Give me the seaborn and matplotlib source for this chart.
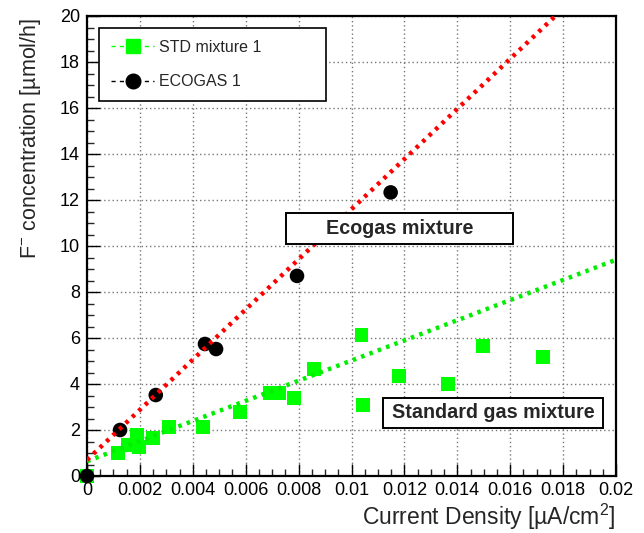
import numpy as np
import pandas as pd
import matplotlib
matplotlib.use("Agg")
import matplotlib.pyplot as plt
from matplotlib.lines import Line2D
from matplotlib.patches import Rectangle
from matplotlib.ticker import MultipleLocator, FuncFormatter
import seaborn as sns

# Standard gas mixture measurements
std_x = [0.0, 0.00116, 0.00154, 0.0019, 0.00198, 0.00248, 0.00311, 0.00437,
         0.00578, 0.00692, 0.00727, 0.00784, 0.00859, 0.01038, 0.01045,
         0.01181, 0.01366, 0.01496, 0.01725]
std_y = [0.0, 1.01, 1.35, 1.78, 1.28, 1.64, 2.12, 2.12,
         2.77, 3.6, 3.6, 3.38, 4.65, 6.13, 3.09,
         4.36, 4.0, 5.67, 5.19]

# ECOGAS measurements
eco_x = [0.0, 0.00125, 0.0026, 0.00446, 0.00488, 0.00794, 0.01148]
eco_y = [0.0, 2.0, 3.52, 5.74, 5.52, 8.7, 12.33]

# Linear fits: (intercept, slope)
eco_fit = (0.70, 1090.0)
std_fit = (0.64, 438.0)

x_ticks = [0, 0.002, 0.004, 0.006, 0.008, 0.01, 0.012, 0.014, 0.016, 0.018, 0.02]
y_ticks = [0, 2, 4, 6, 8, 10, 12, 14, 16, 18, 20]

sns.set_style("white")
plt.rcParams["font.family"] = ["Liberation Sans", "DejaVu Sans"]
plt.rcParams["mathtext.fontset"] = "custom"
plt.rcParams["mathtext.rm"] = "Liberation Sans"
plt.rcParams["mathtext.it"] = "Liberation Sans:italic"
plt.rcParams["mathtext.bf"] = "Liberation Sans:bold"

fig = plt.figure(figsize=(6.44, 5.33), dpi=100)
ax = fig.add_axes([87 / 644, 1 - 476 / 533, 529 / 644, 460 / 533])

xmin, xmax = x_ticks[0], x_ticks[-1]
ymin, ymax = y_ticks[0], y_ticks[-1]

# Scatter points
std_df = pd.DataFrame({"x": std_x, "y": std_y})
eco_df = pd.DataFrame({"x": eco_x, "y": eco_y})
sns.scatterplot(data=std_df, x="x", y="y", marker="s", s=100, color="#00ff00",
                edgecolor="none", linewidth=0, ax=ax, zorder=3, clip_on=False)
sns.scatterplot(data=eco_df, x="x", y="y", marker="o", s=110, color="black",
                edgecolor="none", linewidth=0, ax=ax, zorder=4, clip_on=False)

# Fit lines, clipped to the frame
def fit_line(fit):
    b, m = fit
    x_end = min(xmax, (ymax - b) / m)
    return pd.DataFrame({"x": [0.0, x_end], "y": [b, b + m * x_end]})

sns.lineplot(data=fit_line(std_fit), x="x", y="y", color="#00ee00", lw=3.2,
             linestyle=(0, (0.8, 1.2)), ax=ax, zorder=5)
sns.lineplot(data=fit_line(eco_fit), x="x", y="y", color="#ff0000", lw=3.2,
             linestyle=(0, (0.8, 1.2)), ax=ax, zorder=5)

ax.set_xlim(xmin, xmax)
ax.set_ylim(ymin, ymax)
ax.set_xticks(x_ticks)
ax.set_yticks(y_ticks)
ax.xaxis.set_minor_locator(MultipleLocator(0.0005))
ax.yaxis.set_minor_locator(MultipleLocator(0.5))
ax.xaxis.set_major_formatter(FuncFormatter(lambda v, p: f"{v:g}"))
ax.yaxis.set_major_formatter(FuncFormatter(lambda v, p: f"{v:g}"))

ax.tick_params(axis="both", which="major", direction="in", length=9, width=1.0,
               labelsize=13, colors="black", top=False, right=False,
               bottom=True, left=True)
ax.tick_params(axis="both", which="minor", direction="in", length=5, width=1.0,
               top=False, right=False, bottom=True, left=True)
ax.tick_params(axis="x", which="major", pad=4)
ax.tick_params(axis="y", which="major", pad=5)

ax.grid(True, which="major", color="#777777", linestyle=(0, (1, 2)), lw=1.0)
ax.set_axisbelow(True)
for s in ax.spines.values():
    s.set_color("black")
    s.set_linewidth(1.6)

ax.set_xlabel("")
ax.set_ylabel("")
fig.text(615 / 644, 1 - 517 / 533, "Current Density [µA/cm$^{2}$]",
         ha="right", va="center", fontsize=16.5)
fig.text(31 / 644, 1 - 18 / 533, "F$^{-}$ concentration [µmol/h]",
         ha="center", va="top", rotation=90, fontsize=15.5)

# Annotation boxes
def label_box(x0, x1, y0, y1, text):
    ax.add_patch(Rectangle((x0, y0), x1 - x0, y1 - y0, facecolor="white",
                           edgecolor="black", lw=1.4, zorder=6))
    ax.text((x0 + x1) / 2, (y0 + y1) / 2, text, ha="center", va="center",
            fontsize=14.2, fontweight="bold", zorder=7)

label_box(0.00752, 0.0161, 10.09, 11.43, "Ecogas mixture")
label_box(0.01119, 0.0195, 2.09, 3.39, "Standard gas mixture")

# Legend
handles = [
    Line2D([], [], color="#00ff00", linestyle=(0, (3, 3)), lw=1, marker="s",
           markersize=10, markerfacecolor="#00ff00", markeredgecolor="#00ff00"),
    Line2D([], [], color="black", linestyle=(0, (3, 3)), lw=1, marker="o",
           markersize=10.5, markerfacecolor="black", markeredgecolor="black"),
]
leg = ax.legend(handles, ["STD mixture 1", "ECOGAS 1"], loc="upper left",
                bbox_to_anchor=(0.0227, 0.0, 0.429, 0.974), mode="expand",
                fontsize=11.5, frameon=True, fancybox=False, edgecolor="black",
                framealpha=1, handlelength=2.7, labelspacing=1.2,
                borderpad=0.75, handletextpad=0.3, borderaxespad=0)
leg.get_frame().set_linewidth(1.2)
leg.set_zorder(8)

fig.savefig("out.png", dpi=100)
